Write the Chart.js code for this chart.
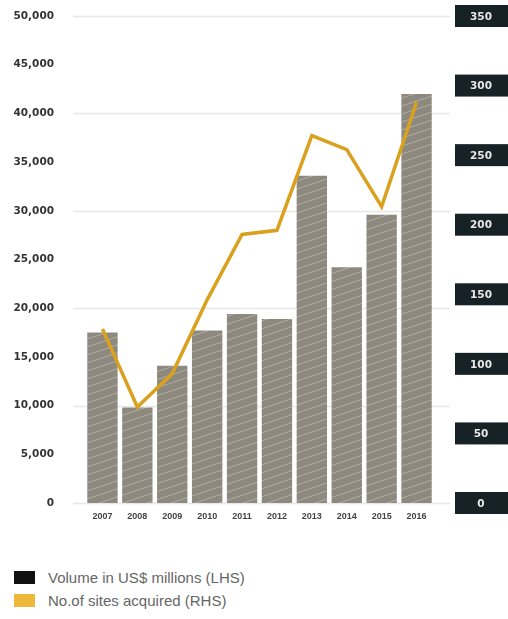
<!DOCTYPE html>
<html lang="en">
<head>
  <meta charset="UTF-8">
  <title>Volume and sites acquired</title>
  <script src="https://cdn.jsdelivr.net/npm/chart.js"></script>
  <style>
    body {
      margin: 0;
      background: #fff;
      font-family: "Liberation Sans", Arial, sans-serif;
    }
    #wrap {
      position: relative;
      width: 508px;
      height: 528px;
    }
    .legend {
      margin-top: 38px;
      padding-left: 14px;
    }
    .legend div {
      display: flex;
      align-items: center;
      height: 23px;
      font-size: 15px;
      color: #666;
    }
    .legend span {
      display: inline-block;
      width: 21px;
      height: 13px;
      margin-right: 13px;
    }
  </style>
</head>
<body>
<div id="wrap">
  <canvas id="grafico"></canvas>
</div>
<div class="legend">
  <div><span style="background:#111"></span>Volume in US$ millions (LHS)</div>
  <div><span style="background:#eeb838"></span>No.of sites acquired (RHS)</div>
</div>

<script>
  const years = ['2007', '2008', '2009', '2010', '2011', '2012', '2013', '2014', '2015', '2016'];
  const volume = [17500, 9800, 14100, 17700, 19400, 18900, 33600, 24200, 29600, 42000];
  const sites = [125, 69, 93, 146, 193, 196, 264, 254, 213, 288];
  const rightTicks = [0, 50, 100, 150, 200, 250, 300, 350];

  const ctx = document.getElementById('grafico').getContext('2d');

  // hatched bar fill
  const tile = document.createElement('canvas');
  tile.width = 24;
  tile.height = 8;
  const t = tile.getContext('2d');
  t.fillStyle = '#8d897f';
  t.fillRect(0, 0, 24, 8);
  t.strokeStyle = 'rgba(215,213,205,0.45)';
  t.lineWidth = 1.1;
  [-24, 0, 24].forEach(function(o) {
    t.beginPath();
    t.moveTo(o, 8 - o / 3);
    t.lineTo(o + 24, -o / 3);
    t.stroke();
  });
  const hatch = ctx.createPattern(tile, 'repeat');

  // long light gridlines every 10,000
  const gridPlugin = {
    id: 'grid',
    beforeDatasetsDraw(chart) {
      const y = chart.scales.y;
      const c = chart.ctx;
      c.save();
      c.strokeStyle = '#e8e8e8';
      c.lineWidth = 1.5;
      y.ticks.forEach(function(tk) {
        if (tk.value % 10000 !== 0) return;
        const py = Math.round(y.getPixelForValue(tk.value)) + 0.5;
        c.beginPath();
        c.moveTo(73, py);
        c.lineTo(450, py);
        c.stroke();
      });
      c.restore();
    }
  };

  // dark boxes for right axis labels
  const boxPlugin = {
    id: 'boxes',
    afterDraw(chart) {
      const y2 = chart.scales.y2;
      const c = chart.ctx;
      c.save();
      c.font = 'bold 10.5px "DejaVu Sans", sans-serif';
      c.textAlign = 'center';
      c.textBaseline = 'middle';
      rightTicks.forEach(function(v) {
        const py = y2.getPixelForValue(v);
        c.fillStyle = '#162226';
        c.fillRect(455, py - 11, 53, 22);
        c.fillStyle = '#e8e8e8';
        c.fillText(String(v), 481, py + 1);
      });
      c.restore();
    }
  };

  new Chart(ctx, {
    data: {
      labels: years,
      datasets: [{
        type: 'line',
        label: 'No.of sites acquired (RHS)',
        data: sites,
        yAxisID: 'y2',
        borderColor: '#d9a11e',
        borderWidth: 3.5,
        pointRadius: 0,
        tension: 0,
        order: 0
      }, {
        type: 'bar',
        label: 'Volume in US$ millions (LHS)',
        data: volume,
        yAxisID: 'y',
        backgroundColor: hatch,
        categoryPercentage: 0.87,
        barPercentage: 1,
        order: 1
      }]
    },
    options: {
      responsive: true,
      maintainAspectRatio: false,
      animation: false,
      layout: { padding: { top: 16 } },
      plugins: {
        legend: { display: false },
        tooltip: { enabled: false }
      },
      scales: {
        x: {
          grid: { display: false },
          border: { display: false },
          afterFit(scale) { scale.height = 25; scale.paddingLeft = 0; scale.paddingRight = 0; },
          ticks: {
            color: '#444',
            font: { size: 9, weight: 'bold' },
            padding: 0,
            maxRotation: 0
          }
        },
        y: {
          position: 'left',
          min: 0,
          max: 50000,
          grid: { display: false },
          border: { display: false },
          afterFit(scale) { scale.width = 85; scale.paddingTop = 0; scale.paddingBottom = 0; },
          ticks: {
            stepSize: 5000,
            color: '#333',
            padding: 23,
            font: { family: '"DejaVu Sans", sans-serif', size: 10.5, weight: 'bold' },
            callback: function(v) { return v.toLocaleString('en-US'); }
          }
        },
        y2: {
          position: 'right',
          min: 0,
          max: 350,
          grid: { display: false },
          border: { display: false },
          afterFit(scale) { scale.width = 74; scale.paddingTop = 0; scale.paddingBottom = 0; },
          ticks: { display: false, stepSize: 50 }
        }
      }
    },
    plugins: [gridPlugin, boxPlugin]
  });
</script>

</body>
</html>
